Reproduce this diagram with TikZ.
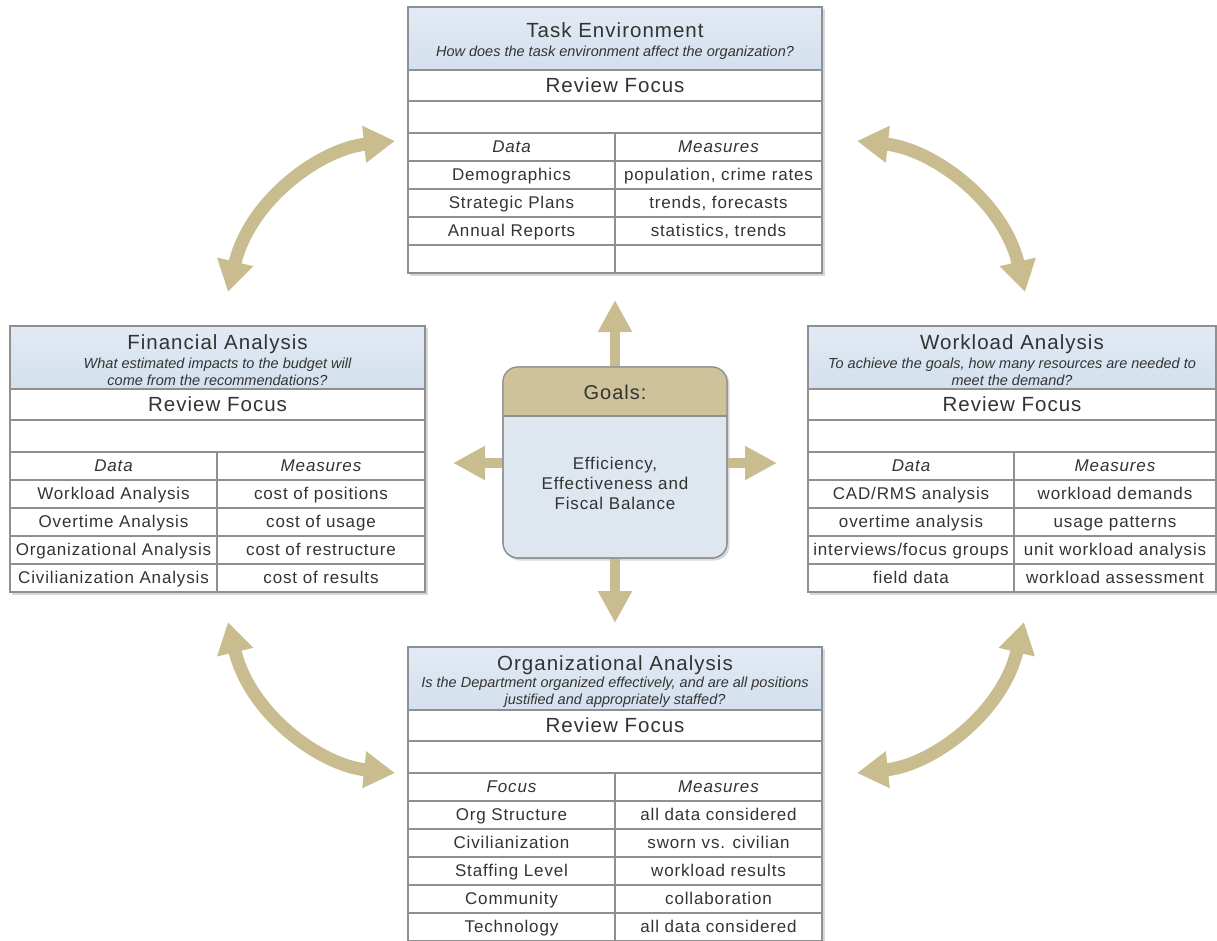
\documentclass[tikz,border=0pt]{standalone}
\usepackage{fontspec}
\setmainfont{Liberation Sans}[LetterSpace=5]
\newfontfamily\subfont{Liberation Sans}
\usetikzlibrary{arrows.meta}
\definecolor{khaki}{HTML}{C9BD90}
\definecolor{goalhead}{HTML}{CEC29A}
\definecolor{goalbody}{HTML}{DEE6F0}
\definecolor{hdrtop}{HTML}{E2EAF4}
\definecolor{hdrbot}{HTML}{D4E0EE}
\definecolor{linec}{HTML}{8F8F8F}
\definecolor{txt}{HTML}{333333}
\definecolor{shadowc}{HTML}{D8D8D8}
\newcommand\panel[8]{%
  \pgfmathsetmacro\pyh{#5+63}%
  \pgfmathsetmacro\pyr{#5+94}%
  \pgfmathsetmacro\pye{#5+126}%
  \pgfmathsetmacro\pyc{#5+154}%
  \pgfmathsetmacro\pyz{#5+154+28*#8}%
  \fill[shadowc] (#2+2,#5+2) rectangle (#4+2.5,\pyz+2.5);
  \shade[hdr] (#2,#5) rectangle (#4,\pyh);
  \draw[cell] (#2,\pyh) rectangle (#4,\pyr);
  \node[rftext] (#1-rf) at ({(#2+#4)/2},{(\pyh+\pyr)/2}) {Review Focus};
  \draw[cell] (#2,\pyr) rectangle (#4,\pye);
  \draw[cell] (#2,\pye) rectangle (#3,\pyc);
  \draw[cell] (#3,\pye) rectangle (#4,\pyc);
  \node[celltext,font=\fontsize{17}{20}\selectfont\itshape] (#1-ca) at ({(#2+#3)/2},{(\pye+\pyc)/2}) {#6};
  \node[celltext,font=\fontsize{17}{20}\selectfont\itshape] (#1-cb) at ({(#3+#4)/2},{(\pye+\pyc)/2}) {Measures};
  \foreach \a/\b [count=\i] in {#7} {%
    \pgfmathsetmacro\ytop{\pyc+28*(\i-1)}%
    \pgfmathsetmacro\ybot{\ytop+28}%
    \pgfmathsetmacro\ymid{\ytop+14}%
    \draw[cell] (#2,\ytop) rectangle (#3,\ybot);
    \draw[cell] (#3,\ytop) rectangle (#4,\ybot);
    \node[celltext] (#1-r\i-a) at ({(#2+#3)/2},\ymid) {\a};
    \node[celltext] (#1-r\i-b) at ({(#3+#4)/2},\ymid) {\b};
  }%
}
\begin{document}
\begin{tikzpicture}[x=1pt,y=-1pt,
  cell/.style={draw=linec, line width=1.1pt, fill=white},
  hdr/.style={draw=linec, line width=1.1pt, top color=hdrtop, bottom color=hdrbot},
  celltext/.style={font=\fontsize{17}{20}\selectfont, text=txt, inner sep=0pt, text height=13.5pt, text depth=2pt},
  multitext/.style={font=\fontsize{17}{20}\selectfont, text=txt, inner sep=0pt, align=center},
  rftext/.style={font=\fontsize{20.5}{24}\selectfont, text=txt, inner sep=0pt, text height=16.5pt, text depth=2pt},
  titletext/.style={font=\fontsize{20.5}{24}\selectfont, text=txt, inner sep=0pt, text height=16.5pt, text depth=2pt},
  subtext/.style={font=\subfont\itshape\fontsize{14.5}{17}\selectfont, text=txt, inner sep=0pt, align=center},
  bigarrow/.style={draw=khaki, line width=13pt, {Triangle[width=35pt,length=31pt]}-{Triangle[width=35pt,length=31pt]}},
  goalarrow/.style={draw=khaki, line width=10pt, -{Triangle[width=32pt,length=32pt]}},
  goalbox/.style={draw=linec, line width=1.2pt, rounded corners=15pt}
]
\useasboundingbox (0,0) rectangle (1217,941);

% Task Environment
\panel{te}{408}{615}{822}{7}{Data}{{Demographics}/{population, crime rates},{Strategic Plans}/{trends, forecasts},{Annual Reports}/{statistics, trends},{}/{}}{4}
\node[titletext] (te-title) at (615,30) {Task Environment};
\node[subtext] (te-sub) at (615,52.5) {How does the task environment affect the organization?};

% Financial Analysis
\panel{fa}{10}{217}{425}{326}{Data}{{Workload Analysis}/{cost of positions},{Overtime Analysis}/{cost of usage},{Organizational Analysis}/{cost of restructure},{Civilianization Analysis}/{cost of results}}{4}
\node[titletext] (fa-title) at (217.5,342) {Financial Analysis};
\node[subtext] (fa-sub) at (217.5,372) {What estimated impacts to the budget will\\come from the recommendations?};

% Workload Analysis
\panel{wa}{808}{1014}{1216}{326}{Data}{{CAD/RMS analysis}/{workload demands},{overtime analysis}/{usage patterns},{interviews/focus groups}/{unit workload analysis},{field data}/{workload assessment}}{4}
\node[titletext] (wa-title) at (1012,342) {Workload Analysis};
\node[subtext] (wa-sub) at (1012,372) {To achieve the goals, how many resources are needed to\\meet the demand?};

% Organizational Analysis
\panel{oa}{408}{615}{822}{647}{Focus}{{Org Structure}/{all data considered},{Civilianization}/{sworn vs. civilian},{Staffing Level}/{workload results},{Community}/{collaboration},{Technology}/{all data considered}}{5}
\node[titletext] (oa-title) at (615,663) {Organizational Analysis};
\node[subtext] (oa-sub) at (615,692.5) {Is the Department organized effectively, and are all positions\\justified and appropriately staffed?};

% Goals box
\fill[shadowc, rounded corners=15pt] (505,369) rectangle (729.5,560.5);
\node[goalbox, fill=goalbody, minimum width=224pt, minimum height=191pt, inner sep=0pt] (goals) at (615,462.5) {};
\begin{scope}
  \clip[rounded corners=15pt] (503,367) rectangle (727,558);
  \fill[goalhead] (503,367) rectangle (727,416);
\end{scope}
\draw[draw=linec, line width=1.2pt] (503,416) -- (727,416);
\draw[goalbox] (503,367) rectangle (727,558);
\node[titletext, font=\fontsize{20}{24}\selectfont] (goals-title) at (615,392) {Goals:};
\node[multitext] (goals-text) at (615,483) {Efficiency,\\Effectiveness and\\Fiscal Balance};

% straight arrows from goals
\coordinate (tipU) at (615,300);
\coordinate (tipD) at (615,623);
\coordinate (tipL) at (453,463);
\coordinate (tipR) at (777,463);
\draw[goalarrow] (goals.north) -- (tipU);
\draw[goalarrow] (goals.south) -- (tipD);
\draw[goalarrow] (goals.west |- tipL) -- (tipL);
\draw[goalarrow] (goals.east |- tipR) -- (tipR);

% curved arrows
\coordinate (tl1) at (228,292);
\coordinate (tl2) at (395,141);
\coordinate (tr1) at (857,141);
\coordinate (tr2) at (1025,292);
\coordinate (bl1) at (228,622);
\coordinate (bl2) at (395,773);
\coordinate (br1) at (1024,622);
\coordinate (br2) at (857,773);
\draw[bigarrow] (tl1) .. controls (250,200) and (320,149) .. (tl2);
\draw[bigarrow] (tr1) .. controls (932,149) and (1003,200) .. (tr2);
\draw[bigarrow] (bl1) .. controls (250,714) and (320,765) .. (bl2);
\draw[bigarrow] (br1) .. controls (1002,714) and (932,765) .. (br2);
\end{tikzpicture}
\end{document}
